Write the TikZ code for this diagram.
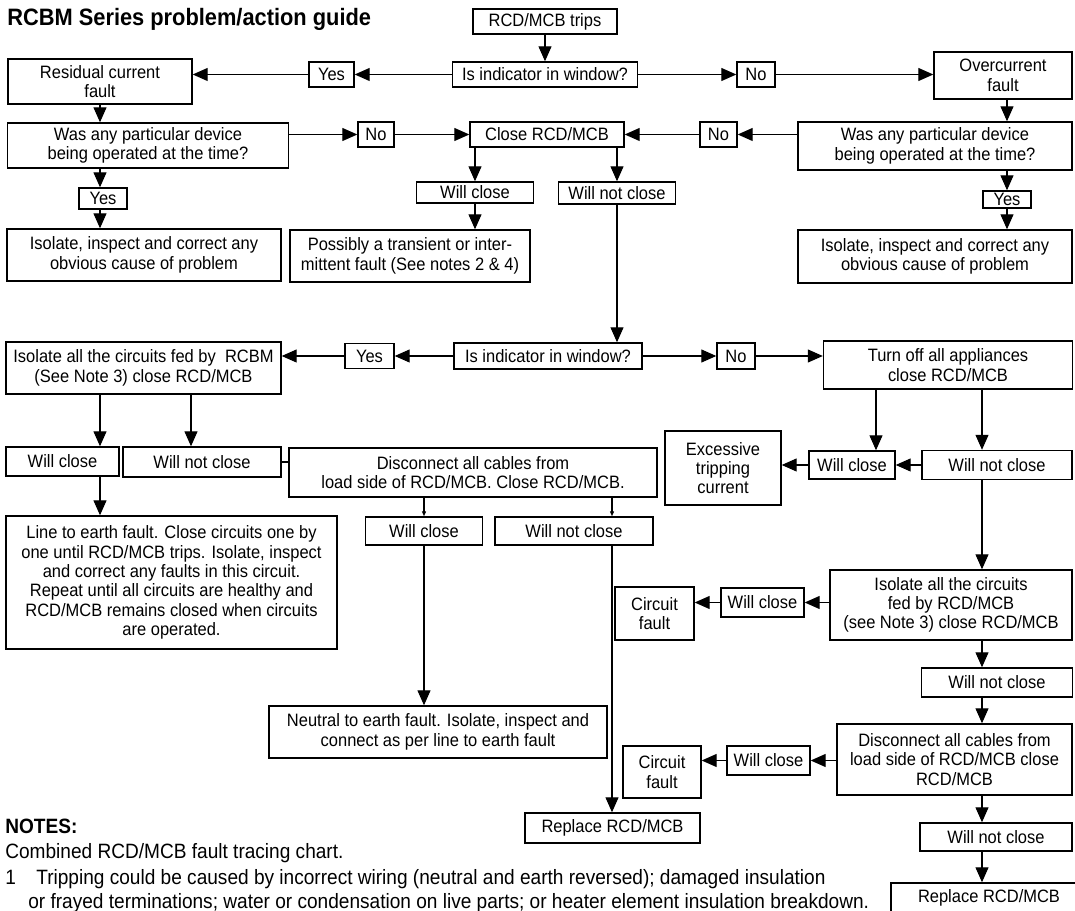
\documentclass[tikz,border=0pt]{standalone}
\usepackage{fontspec}
\setmainfont{Liberation Sans}[FakeStretch=0.92]
\usetikzlibrary{arrows.meta,calc}

\begin{document}
\begin{tikzpicture}[
  x=0.02cm, y=-0.02cm,
  font=\fontsize{10.2}{11}\selectfont,
  every node/.style={align=center},
  box/.style={rectangle, draw=black, line width=0.8pt, inner sep=1pt},
  boxsize/.style 2 args={minimum width=#1*0.02cm, minimum height=#2*0.02cm},
  plain/.style={inner sep=0pt, anchor=base west},
  notefont/.style={font=\fontsize{11.8}{14}\selectfont},
  arr/.style={-{Triangle[length=0.3cm,width=0.26cm]}, line width=0.65pt},
  arrs/.style={-{Triangle[length=0.1cm,width=0.08cm]}, line width=0.65pt}
]
  \useasboundingbox (0,0) rectangle (1075,911);
  \clip (0,0) rectangle (1075,911);

  % Title
  \node[plain, font=\fontsize{13.5}{15}\selectfont\bfseries] (title) at (7,26) {RCBM Series problem/action guide};

  % Columns for the vertical connectors
  \coordinate (colA) at (100,0);
  \coordinate (colB) at (191,0);
  \coordinate (colD) at (612,0);
  \coordinate (colE) at (876,0);
  \coordinate (colF) at (982,0);
  \coordinate (colG) at (1007,0);

  % First question (Top row)
  \node[box, boxsize={144}{25}] (trips) at (545,21.5) {RCD/MCB trips};
  \node[box, boxsize={185}{25}] (ind1) at (545,74.5) {Is indicator in window?};
  \node[box, boxsize={45}{25}] (yes1) at (331.5,74.5) {Yes};
  \node[box, boxsize={184}{45}] (res) at (100,81.5) {Residual current\\fault};
  \node[box, boxsize={38}{25}] (no1) at (756,74.5) {No};
  \node[box, boxsize={138}{47}] (over) at (1003,75.5) {Overcurrent\\fault};

  % Device questions and first closing attempt
  \node[box, boxsize={281}{45}] (wasL) at (148,145.5) {Was any particular device\\being operated at the time?};
  \node[box, boxsize={36}{25}] (noL) at (376,134.5) {No};
  \node[box, boxsize={154}{25}] (close) at (547,134.5) {Close RCD/MCB};
  \node[box, boxsize={37}{25}] (noR) at (718.5,134.5) {No};
  \node[box, boxsize={274}{48}] (wasR) at (935,146) {Was any particular device\\being operated at the time?};

  \node[box, boxsize={48}{21}] (yesL) at (103,198.5) {Yes};
  \node[box, boxsize={117}{21}] (wc1) at (475,192.5) {Will close};
  \node[box, boxsize={117}{22}] (wnc1) at (617,193) {Will not close};
  \node[box, boxsize={48}{17}] (yesR) at (1007,199.5) {Yes};

  \node[box, boxsize={274}{52}] (isoL) at (144,255) {Isolate, inspect and correct any\\obvious cause of problem};
  \node[box, boxsize={240}{52}] (poss) at (410,256) {Possibly a transient or inter-\\mittent fault (See notes 2 \& 4)};
  \node[box, boxsize={274}{53}] (isoR) at (935,256.5) {Isolate, inspect and correct any\\obvious cause of problem};

  % Second question
  \node[box, boxsize={188}{26}] (ind2) at (548,356) {Is indicator in window?};
  \node[box, boxsize={49}{25}] (yes2) at (369.5,356) {Yes};
  \node[box, boxsize={275}{52}] (rcbm) at (143.5,368) {Isolate all the circuits fed by\ \ RCBM\\(See Note 3) close RCD/MCB};
  \node[box, boxsize={38}{26}] (no3) at (736,356) {No};
  \node[box, boxsize={249}{48}] (toff) at (948,365) {Turn off all appliances\\close RCD/MCB};

  % Residual current branch
  \node[box, boxsize={113}{29}] (wc2) at (62.5,461.5) {Will close};
  \node[box, boxsize={158}{30}] (wnc2) at (202,462) {Will not close};
  \node[box, boxsize={368}{49}] (disc1) at (473,472.5) {Disconnect all cables from\\load side of RCD/MCB. Close RCD/MCB.};
  \node[box, boxsize={331}{133}] (lte) at (171.5,582.5) {Line to earth fault. Close circuits one by\\one until RCD/MCB trips. Isolate, inspect\\and correct any faults in this circuit.\\Repeat until all circuits are healthy and\\RCD/MCB remains closed when circuits\\are operated.};
  \node[box, boxsize={117}{28}] (wc3) at (424,531) {Will close};
  \node[box, boxsize={158}{28}] (wnc3) at (574,531) {Will not close};
  \node[box, boxsize={338}{52}] (neutral) at (438,732) {Neutral to earth fault. Isolate, inspect and\\connect as per line to earth fault};
  \node[box, boxsize={175}{30}] (rep1) at (612.5,828) {Replace RCD/MCB};

  % Overcurrent branch
  \node[box, boxsize={86}{28}] (wc4) at (852,465) {Will close};
  \node[box, boxsize={150}{29}] (wnc4) at (997,465) {Will not close};
  \node[box, boxsize={116}{74}] (exc) at (723,468) {Excessive\\tripping\\current};
  \node[box, boxsize={242}{70}] (iso3) at (951,605) {Isolate all the circuits\\fed by RCD/MCB\\(see Note 3) close RCD/MCB};
  \node[box, boxsize={83}{29}] (wc5) at (762.5,602.5) {Will close};
  \node[box, boxsize={79}{53}] (cf1) at (654.5,613.5) {Circuit\\fault};
  \node[box, boxsize={151}{29}] (wnc5) at (997,682.5) {Will not close};
  \node[box, boxsize={235}{71}] (disc2) at (954.5,759.5) {Disconnect all cables from\\load side of RCD/MCB close\\RCD/MCB};
  \node[box, boxsize={83}{29}] (wc6) at (768.5,760.5) {Will close};
  \node[box, boxsize={78}{52}] (cf2) at (662,772) {Circuit\\fault};
  \node[box, boxsize={152}{28}] (wnc6) at (996,837) {Will not close};
  \node[box, boxsize={196}{30}] (rep2) at (989,898) {Replace RCD/MCB};

  % Notes
  \node[plain, font=\fontsize{11.8}{14}\selectfont\bfseries] (notes) at (5,833) {NOTES:};
  \node[plain, notefont] (note0) at (5,858) {Combined RCD/MCB fault tracing chart.};
  \node[plain, notefont] (note1n) at (5,884) {1};
  \node[plain, notefont] (note1a) at (36,884) {Tripping could be caused by incorrect wiring (neutral and earth reversed); damaged insulation};
  \node[plain, notefont] (note1b) at (28,908) {or frayed terminations; water or condensation on live parts; or heater element insulation breakdown.};

  % Connectors: first question
  \draw[arr] (trips) -- (ind1);
  \draw[arr] (ind1) -- (yes1);
  \draw[arr] (yes1.west) -- (yes1.west -| res.east);
  \draw[arr] (ind1) -- (no1);
  \draw[arr] (no1.east) -- (no1.east -| over.west);
  \draw[arr] (res.south -| colA) -- (wasL.north -| colA);
  \draw[arr] (over.south -| colG) -- (wasR.north -| colG);

  % Connectors: device questions
  \draw[arr] (wasL.east |- close.west) -- (noL);
  \draw[arr] (noL) -- (close);
  \draw[arr] (wasR.west |- close.east) -- (noR);
  \draw[arr] (noR) -- (close);
  \draw[arr] (wasL.south -| colA) -- (yesL.north -| colA);
  \draw[arr] (yesL.south -| colA) -- (isoL.north -| colA);
  \draw[arr] (wasR.south -| colG) -- (yesR.north -| colG);
  \draw[arr] (yesR.south -| colG) -- (isoR.north -| colG);
  \draw[arr] (close.south -| wc1) -- (wc1);
  \draw[arr] (close.south -| wnc1) -- (wnc1);
  \draw[arr] (wc1) -- (wc1 |- poss.north);
  \draw[arr] (wnc1) -- (wnc1 |- ind2.north);

  % Connectors: second question
  \draw[arr] (ind2) -- (yes2);
  \draw[arr] (yes2) -- (yes2 -| rcbm.east);
  \draw[arr] (ind2) -- (no3);
  \draw[arr] (no3) -- (no3 -| toff.west);

  % Left branch flow
  \draw[arr] (rcbm.south -| colA) -- (wc2.north -| colA);
  \draw[arr] (rcbm.south -| colB) -- (wnc2.north -| colB);
  \draw[line width=0.65pt] (wnc2) -- (wnc2 -| disc1.west);
  \draw[arr] (wc2.south -| colA) -- (lte.north -| colA);
  \draw[arrs] (disc1.south -| wc3) -- (wc3);
  \draw[arrs] (disc1.south -| colD) -- (wnc3.north -| colD);
  \draw[arr] (wc3) -- (wc3 |- neutral.north);
  \draw[arr] (wnc3.south -| colD) -- (rep1.north -| colD);

  % Right branch flow
  \draw[arr] (toff.south -| colE) -- (wc4.north -| colE);
  \draw[arr] (toff.south -| colF) -- (wnc4.north -| colF);
  \draw[arr] (wnc4) -- (wc4);
  \draw[arr] (wc4) -- (wc4 -| exc.east);
  \draw[arr] (wnc4.south -| colF) -- (iso3.north -| colF);
  \draw[arr] (iso3.west |- wc5) -- (wc5);
  \draw[arr] (wc5) -- (wc5 -| cf1.east);
  \draw[arr] (iso3.south -| colF) -- (wnc5.north -| colF);
  \draw[arr] (wnc5.south -| colF) -- (disc2.north -| colF);
  \draw[arr] (disc2.west |- wc6) -- (wc6);
  \draw[arr] (wc6) -- (wc6 -| cf2.east);
  \draw[arr] (disc2.south -| colF) -- (wnc6.north -| colF);
  \draw[arr] (wnc6.south -| colF) -- (rep2.north -| colF);
\end{tikzpicture}
\end{document}
